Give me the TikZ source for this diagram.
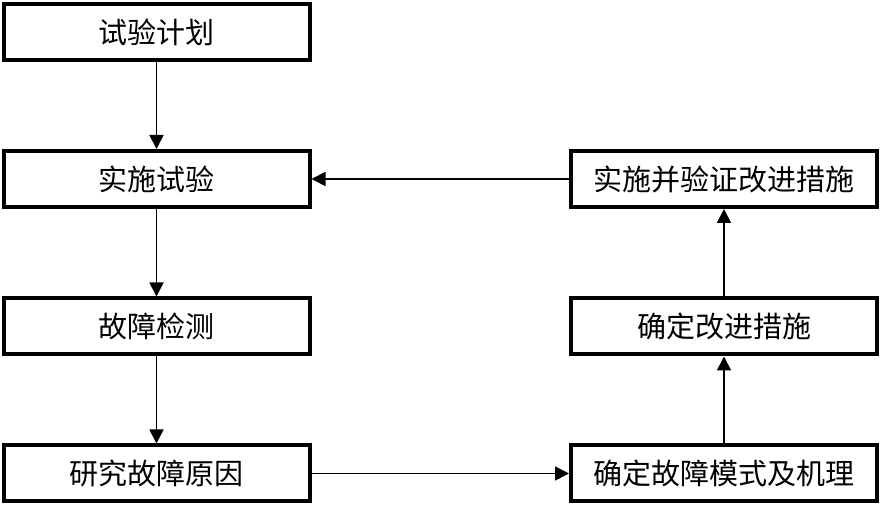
\documentclass[tikz,border=0pt]{standalone}
\usepackage{fontspec}
\newfontfamily\cjk{Noto Sans CJK SC}
\usetikzlibrary{arrows.meta}
\tikzset{
        stagebox/.style={draw, line width=4pt, minimum width=306pt, minimum height=56pt, inner sep=0pt, font=\cjk\fontsize{29}{32}\selectfont},
        flow/.style={line width=1.8pt, -{Triangle[length=14pt,width=14pt]}}
}
\begin{document}
\begin{tikzpicture}[x=1pt, y=1pt]
        \useasboundingbox (0,0) rectangle (881,506);
        \node[stagebox] (plan) at (156.5,474) {试验计划};
        \node[stagebox] (test) at (156.5,327) {实施试验};
        \node[stagebox] (detect) at (156.5,179.5) {故障检测};
        \node[stagebox] (cause) at (156.5,32.5) {研究故障原因};
        \node[stagebox] (mode) at (724,32.5) {确定故障模式及机理};
        \node[stagebox] (measure) at (724,179.5) {确定改进措施};
        \node[stagebox] (verify) at (724,327) {实施并验证改进措施};
        \draw[flow] (plan) -- (test);
        \draw[flow] (test) -- (detect);
        \draw[flow] (detect) -- (cause);
        \draw[flow] (cause) -- (mode);
        \draw[flow] (mode) -- (measure);
        \draw[flow] (measure) -- (verify);
        \draw[flow] (verify) -- (test);
\end{tikzpicture}
\end{document}
